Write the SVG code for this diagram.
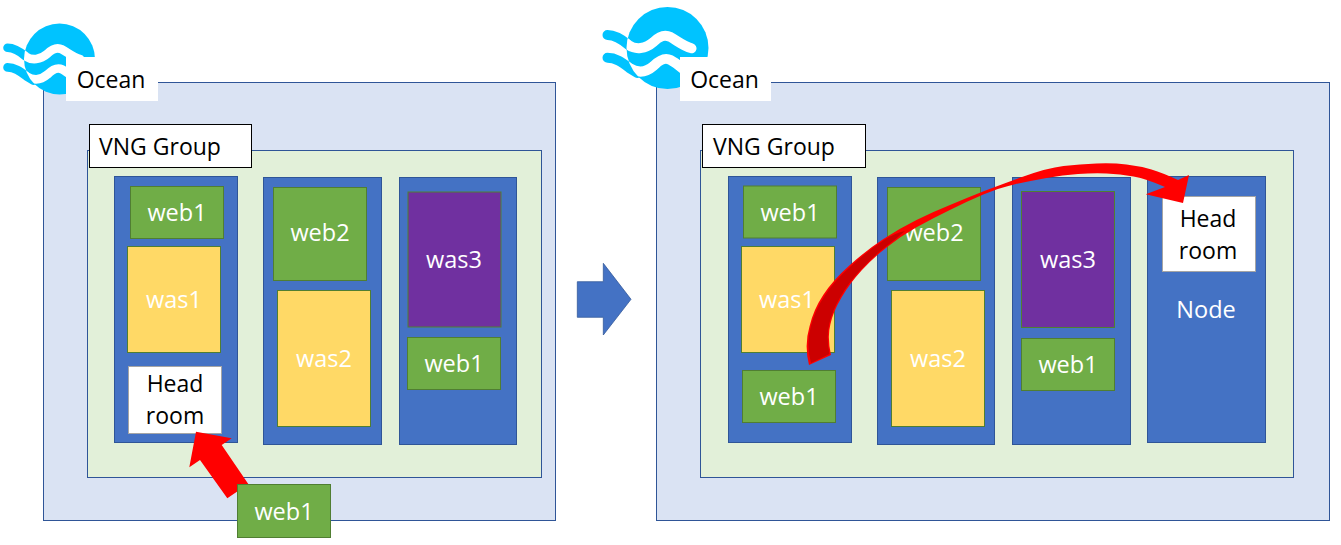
<svg xmlns="http://www.w3.org/2000/svg" width="1341" height="545" viewBox="0 0 1341 545">
<style>
text{font-family:"Open Sans","Noto Sans","DejaVu Sans",sans-serif;font-size:23px;text-anchor:middle}
.l{fill:#fff;font-size:23.5px}.d{fill:#000}
.ocean{fill:#DAE3F3;stroke:#2F5597}
.vng{fill:#E2F0D9;stroke:#2F5597}
.lab{fill:#fff;stroke:#000}
.node{fill:#4472C4;stroke:#2F5597}
.web{fill:#70AD47;stroke:#507E32}
.was{fill:#FFD966;stroke:#507E32}
.was3{fill:#7030A0;stroke:#507E32}
.head{fill:#fff;stroke:#A5A5A5}
.w{fill:none;stroke-width:10;stroke-linecap:round}
</style>
<defs>
<clipPath id="c"><circle r="41"/></clipPath>
<g id="logo">
<path class="w" stroke="#00C3FF" d="M-60,-13C-52,-13-46,-9-39,-3"/>
<path class="w" stroke="#00C3FF" d="M-60,9.7C-52,9.7-46,14-38,20L-30,25"/>
<circle r="41" fill="#00C3FF"/>
<g clip-path="url(#c)">
<path class="w" stroke="#fff" d="M-60,-13C-52,-13-46,-9-39,-3C-32,2-22,1-14,-6C-8,-12-3,-14,3,-11C10,-7,16,-2,24,.3"/>
<path class="w" stroke="#fff" d="M-60,9.7C-52,9.7-46,14-38,20C-30,25-22,25-14,18C-8,12-3,9,3,12C9,15,14,20,22,26"/>
</g>
</g>
</defs>

<g id="left-ocean"><rect class="ocean" x="43.5" y="82.5" width="512" height="438"/></g>
<g id="left-logo"><use href="#logo" transform="translate(59.5,59) scale(.866)"/></g>
<g id="left-ocean-label"><rect x="66" y="57" width="92" height="44" fill="#fff"/><text class="d" x="111" y="88">Ocean</text></g>
<g id="left-vng"><rect class="vng" x="87.5" y="150.5" width="454" height="327"/></g>
<g id="left-vng-label"><rect class="lab" x="89.5" y="124.5" width="162" height="43"/><text class="d" x="160" y="155">VNG Group</text></g>
<g id="left-node1"><rect class="node" x="114.5" y="176.5" width="123" height="266"/></g>
<g id="left-node2"><rect class="node" x="263.5" y="177.5" width="118" height="267"/></g>
<g id="left-node3"><rect class="node" x="399.5" y="177.5" width="117" height="267"/></g>
<g id="left-web1a"><rect class="web" x="130.5" y="186.5" width="93" height="52"/><text class="l" x="177" y="221">web1</text></g>
<g id="left-was1"><rect class="was" x="127.5" y="246.5" width="93" height="106"/><text class="l" x="174" y="308">was1</text></g>
<g id="left-headroom"><rect class="head" x="128.5" y="366.5" width="93" height="67"/><text class="d" x="175" y="392">Head</text><text class="d" x="175" y="424">room</text></g>
<g id="left-web2"><rect class="web" x="273.5" y="187.5" width="93" height="93"/><text class="l" x="320" y="241">web2</text></g>
<g id="left-was2"><rect class="was" x="277.5" y="290.5" width="93" height="136"/><text class="l" x="324" y="367">was2</text></g>
<g id="left-was3"><rect class="was3" x="408" y="192" width="93" height="135"/><text class="l" x="454" y="268">was3</text></g>
<g id="left-web1b"><rect class="web" x="407.5" y="337.5" width="93" height="52"/><text class="l" x="454" y="372">web1</text></g>

<g id="transition"><path fill="#4472C4" stroke="#2F5597" stroke-width=".75" d="M577.3,281.7H603.3V263.3L631,299.3L603.3,335V317.3H577.3Z"/></g>

<g id="right-ocean"><rect class="ocean" x="656.5" y="82.5" width="673" height="438"/></g>
<g id="right-logo"><use href="#logo" transform="translate(667.5,48)"/></g>
<g id="right-ocean-label"><rect x="680" y="57" width="91" height="44" fill="#fff"/><text class="d" x="724.5" y="88">Ocean</text></g>
<g id="right-vng"><rect class="vng" x="700.5" y="150.5" width="593" height="327"/></g>
<g id="right-vng-label"><rect class="lab" x="702.5" y="124.5" width="163" height="43"/><text class="d" x="774" y="155">VNG Group</text></g>
<g id="right-node1"><rect class="node" x="728.5" y="176.5" width="123" height="266"/></g>
<g id="right-node2"><rect class="node" x="877.5" y="177.5" width="117" height="267"/></g>
<g id="right-node3"><rect class="node" x="1012.5" y="177.5" width="118" height="267"/></g>
<g id="right-node4"><rect class="node" x="1147.5" y="176.5" width="118" height="266"/><text class="l" x="1206" y="318">Node</text></g>
<g id="right-web1a"><rect class="web" x="743.5" y="186" width="93" height="52"/><text class="l" x="790" y="221">web1</text></g>
<g id="right-was1"><rect class="was" x="741.5" y="246.5" width="93" height="106"/><text class="l" x="787" y="308">was1</text></g>
<g id="right-web1c"><rect class="web" x="742.5" y="370.5" width="93" height="52"/><text class="l" x="789" y="405">web1</text></g>
<g id="right-web2"><rect class="web" x="887.5" y="187.5" width="93" height="93"/><text class="l" x="934" y="241">web2</text></g>
<g id="right-was2"><rect class="was" x="891.5" y="290.5" width="93" height="136"/><text class="l" x="938" y="367">was2</text></g>
<g id="right-was3"><rect class="was3" x="1021.5" y="191.5" width="93" height="136"/><text class="l" x="1068" y="268">was3</text></g>
<g id="right-web1b"><rect class="web" x="1021.5" y="338.5" width="93" height="52"/><text class="l" x="1068" y="373">web1</text></g>
<g id="right-headroom"><rect class="head" x="1162.5" y="196.5" width="93" height="75"/><text class="d" x="1208" y="227">Head</text><text class="d" x="1208" y="259">room</text></g>

<g id="connectors">
<path fill="#FF0000" d="M196,431.7L231.7,438.3L221.7,445L248.3,484L227.3,498.3L200,460L189.3,467.3Z"/>
<path fill="#FF0000" d="M809,365Q804,345,809.5,326.5Q813.3,310,823.2,295Q833,280,849.9,265Q866.7,250,883.4,239Q900,228,916.5,219.9Q933,211.7,950,204.9Q966.7,198,983,191.5Q1000,185,1023.5,176.5Q1047,168,1063.5,166Q1080,164,1096.5,163.4Q1113,162.7,1126.5,164.4Q1140,166,1151.5,169.5Q1163,173,1178,180L1189,175L1183,203L1145.7,194.3L1165,187Q1147,179,1133.5,176.5Q1120,174,1106.5,173.5Q1093,173,1078,174Q1063,175,1046.5,178Q1030,181,1015,184.2Q1000,187.5,983.3,194.6Q966.7,201.7,949.9,209.9Q933,218,916.5,227.3Q900,236.7,886.5,247.4Q873,258,861.5,270.5Q850,283,841.5,297.4Q833,311.7,830.4,324.2Q827,337,831,355Z"/>
<path fill="#CC0000" d="M811,363Q806,345,810.7,327Q814.5,311,824.5,296Q834,281,851,266Q867.5,251,884,240Q895,233,905,231Q895,240,886,246.5Q872.5,257,860.8,269.8Q849,282,840.5,296.8Q832,311,829.2,324Q826,338,829.5,354Z"/>
</g>
<g id="incoming-web1"><rect class="web" x="237.5" y="484.5" width="93" height="53"/><text class="l" x="284" y="520">web1</text></g>
</svg>
